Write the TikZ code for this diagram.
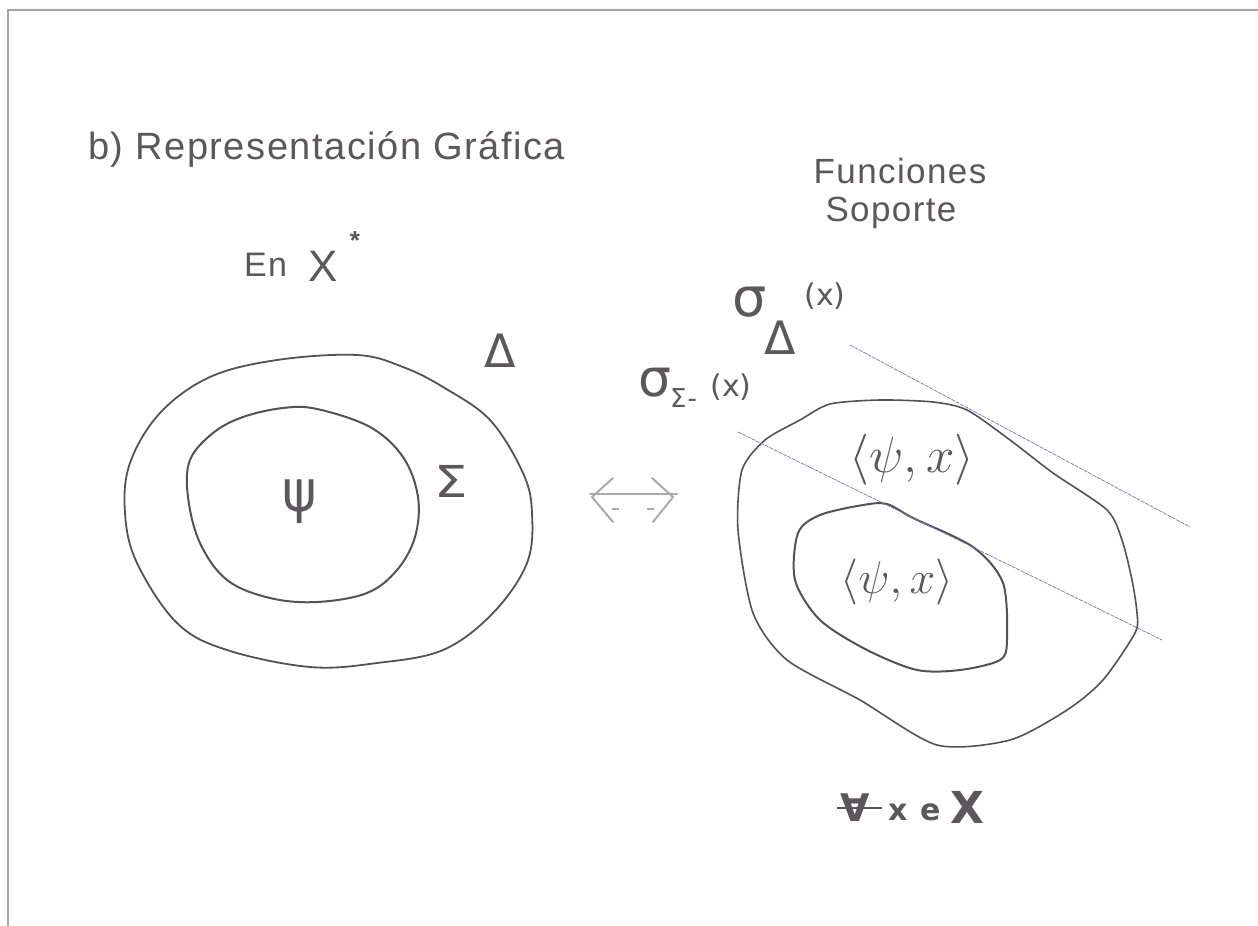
\documentclass[tikz,border=0pt]{standalone}
\usepackage{fontspec}
\usetikzlibrary{calc}
\setmainfont{Liberation Sans}
\newfontfamily\dv{DejaVu Sans}
\newfontfamily\spaced[LetterSpace=4]{Liberation Sans}
\definecolor{txt}{RGB}{92,87,90}
\definecolor{ink}{RGB}{85,82,85}
\definecolor{frame}{RGB}{165,165,165}
\definecolor{bl}{RGB}{120,120,175}
\definecolor{lite}{RGB}{170,170,170}
\tikzset{
  lbl/.style={inner sep=0pt, text=txt, font=\spaced},
  curve/.style={draw=ink, line width=1.8pt, line join=round},
  support/.style={draw=bl, line width=0.7pt, dash pattern=on 4pt off 1pt},
}
\begin{document}
\begin{tikzpicture}[x=1pt,y=-1pt]
\useasboundingbox (0,0) rectangle (1258,926);
\fill[white] (0,0) rectangle (1258,926);
% frame
\draw[frame, line width=2pt] (8,926) -- (8,10) -- (1258,10);

% title
\node[lbl, anchor=west, font=\spaced\fontsize{38}{40}\selectfont] (title) at (88,149) {b) Representación Gráfica};
\node[lbl, font=\spaced\fontsize{35}{38}\selectfont] (fun) at (900,171) {Funciones};
\node[lbl, font=\spaced\fontsize{35}{38}\selectfont] (sop) at (891,213) {Soporte};
\node[lbl, anchor=west, font=\spaced\fontsize{34}{36}\selectfont] (en) at (244,265) {En};
\node[lbl, anchor=west, font=\fontsize{44}{46}\selectfont] (X) at (308,266) {X};
\node[lbl, font=\fontsize{26}{28}\selectfont\bfseries] (star) at (355,241) {*};

% left sets
\draw[curve] plot[smooth cycle, tension=0.6] coordinates {
 (357,355) (403,367) (443,387) (490,420) (523,473) (532,513) (527,563)
 (493,613) (443,650) (377,663) (310,667) (227,650) (177,623) (137,563)
 (125,513) (130,463) (160,413) (210,377) (277,360)};
\draw[curve, line width=2pt] plot[smooth cycle, tension=0.6] coordinates {
 (283,408) (317,409) (370,427) (403,457) (418,497) (415,537) (397,570)
 (367,593) (317,602) (270,598) (227,580) (200,543) (188,497) (190,460)
 (213,433) (243,417)};
% psi (left)
\node[lbl, font=\dv\fontsize{58}{58}\selectfont, xscale=0.9] (psiL) at (300,502) {ψ};
% Sigma and Delta
\node[lbl, font=\dv\fontsize{44}{44}\selectfont, xscale=1.2] (sigL) at (451,481) {Σ};
\node[lbl, font=\dv\fontsize{46}{46}\selectfont] (delL) at (500,351) {Δ};

% double arrow
\coordinate (arL) at (590,494);
\coordinate (arR) at (677,494);
\draw[lite, line width=2pt, line cap=round] (arL) -- (arR);
\draw[lite, line width=2pt, line cap=round] (613,478) -- (592,497) -- (613,522);
\draw[lite, line width=2pt, line cap=round] (652,478) -- (673,497) -- (653,522);
\draw[lite, line width=2pt] (612,509) -- (619,509) (647,509) -- (654,509);

% right sets
\draw[curve, line width=1.6pt] plot[smooth cycle, tension=0.45] coordinates {
 (830,404) (880,400) (933,402) (967,410) (1010,440) (1053,473) (1107,510) (1122,540)
 (1132,580) (1137,613) (1135,633) (1103,680) (1067,710) (1010,740) (937,745)
 (860,700) (787,660) (753,613) (738,530) (742,470) (765,440) (800,420)};
\draw[curve, line width=2pt] plot[smooth cycle, tension=0.5] coordinates {
 (887,504) (913,518) (973,547) (1003,583) (1007,640) (1000,660) (960,670)
 (917,670) (867,650) (820,620) (795,580) (798,533) (820,515) (863,505)};
% support lines
\coordinate (s1a) at (850,345);
\coordinate (s1b) at (1190,527);
\coordinate (s2a) at (738,432);
\coordinate (s2b) at (1162,640);
\draw[support] (s1a) -- (s1b);
\draw[support] (s2a) -- (s2b);

% labels in right sets
\node[lbl, font=\Huge, scale=2.05] (ipU) at (912,460) {$\langle\psi,x\rangle$};
\node[lbl, font=\Huge, scale=1.85] (ipL) at (897,582) {$\langle\psi,x\rangle$};

% support functions labels
\node[lbl, font=\dv\fontsize{54}{54}\selectfont] (sgD) at (750,302) {σ};
\node[lbl, font=\dv\fontsize{46}{46}\selectfont] (sbD) at (780,338) {Δ};
\node[lbl, font=\dv\fontsize{30}{30}\selectfont] (xD) at (825,296) {(x)};
\node[lbl, font=\dv\fontsize{52}{52}\selectfont] (sgS) at (655,383) {σ};
\node[lbl, font=\dv\fontsize{26}{26}\selectfont, anchor=west] (sbS) at (670,398) {Σ\hspace{1pt}-};
\node[lbl, font=\dv\fontsize{30}{30}\selectfont] (xS) at (731,387) {(x)};

% for all x in X
\node[lbl, font=\dv\fontsize{38}{38}\selectfont\bfseries, anchor=west] (fa) at (840,808) {∀};
\draw[txt, line width=1.8pt] (837,808) -- (882,808);
\node[lbl, font=\dv\fontsize{30}{30}\selectfont\bfseries, anchor=west] (fx) at (888,812) {x};
\node[lbl, font=\dv\fontsize{30}{30}\selectfont\bfseries, anchor=west] (fe) at (920,812) {e};
\node[lbl, font=\dv\fontsize{44}{44}\selectfont\bfseries, anchor=west] (fX) at (950,807) {X};
\end{tikzpicture}
\end{document}
